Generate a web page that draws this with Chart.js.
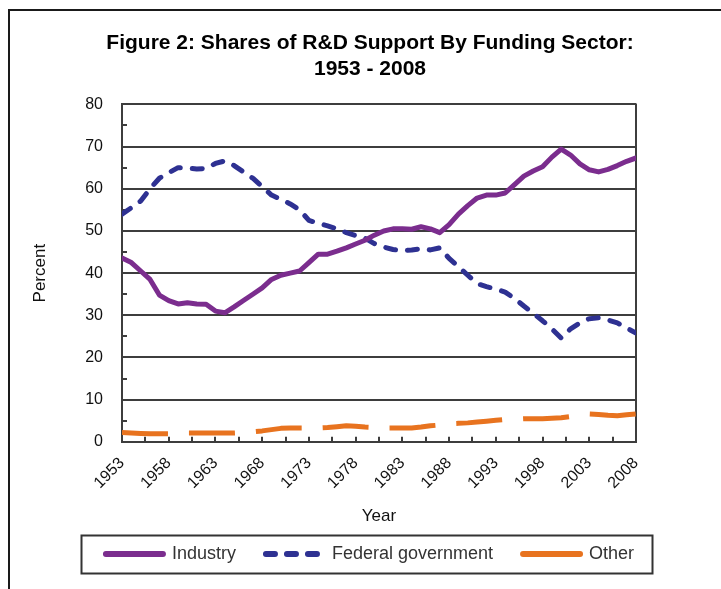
<!DOCTYPE html>
<html>
<head>
<meta charset="utf-8">
<script src="https://cdn.jsdelivr.net/npm/chart.js@4.4.1/dist/chart.umd.min.js"></script>
<style>
  html, body { margin: 0; padding: 0; background: #fff; }
  #wrap { position: relative; width: 721px; height: 589px; overflow: hidden; }
  #frame { position: absolute; left: 8px; top: 9px; right: -10px; bottom: -10px;
           border-left: 2px solid #1a1a1a; border-top: 2px solid #1a1a1a; pointer-events: none; }
  canvas { position: absolute; left: 0; top: 0; }
</style>
</head>
<body>
<div id="wrap">
  <canvas id="c" width="721" height="589"></canvas>
  <div id="frame"></div>
</div>
<script>
// ---- Data ----
const years = [1953,1954,1955,1956,1957,1958,1959,1960,1961,1962,1963,1964,1965,1966,1967,1968,1969,1970,
  1971,1972,1973,1974,1975,1976,1977,1978,1979,1980,1981,1982,1983,1984,1985,1986,1987,1988,1989,1990,
  1991,1992,1993,1994,1995,1996,1997,1998,1999,2000,2001,2002,2003,2004,2005,2006,2007,2008];

const industry = [43.6,42.5,40.5,38.5,34.8,33.5,32.7,33.0,32.7,32.6,31.0,30.6,32.0,33.5,35.0,36.5,38.5,39.5,
  40.0,40.5,42.5,44.5,44.5,45.2,46.0,46.9,47.8,49.0,50.0,50.5,50.5,50.4,51.0,50.5,49.6,51.5,54.0,56.0,
  57.8,58.5,58.5,59.0,61.0,63.0,64.2,65.2,67.5,69.4,68.0,65.9,64.5,64.0,64.6,65.5,66.5,67.3];

const federal = [54.0,55.5,57.1,60.0,62.5,63.8,65.0,64.9,64.7,64.8,66.0,66.6,65.5,64.0,62.5,60.5,58.5,57.5,
  56.4,55.0,52.5,51.8,51.2,50.5,49.6,48.9,48.3,47.0,46.2,45.6,45.3,45.5,45.8,45.5,46.0,43.5,41.5,39.5,
  37.5,36.8,36.2,35.5,34.0,32.2,30.5,28.7,26.8,24.6,26.8,28.2,29.2,29.4,28.9,28.2,27.0,25.8];

const other = [2.2,2.1,2.0,1.9,1.9,1.9,2.0,2.1,2.1,2.1,2.1,2.1,2.1,2.2,2.4,2.6,2.9,3.2,
  3.3,3.3,3.3,3.3,3.4,3.6,3.8,3.7,3.5,3.4,3.3,3.3,3.3,3.3,3.5,3.8,4.0,4.3,4.4,4.5,
  4.7,4.9,5.1,5.3,5.4,5.5,5.5,5.5,5.6,5.7,6.0,6.4,6.6,6.5,6.3,6.2,6.4,6.6];

const xTickLabels = ['1953','1958','1963','1968','1973','1978','1983','1988','1993','1998','2003','2008'];
const yTickValues = [0,10,20,30,40,50,60,70,80];
const seriesNames = ['Industry','Federal government','Other'];
const titleLines = ['Figure 2: Shares of R&D Support By Funding Sector:','1953 - 2008'];

// ---- Build ----
const toPts = (arr) => arr.map((v, i) => ({ x: years[i], y: v }));
const xLabelYears = xTickLabels.map(Number);
const xMinor = [];
xLabelYears.forEach((yv, i) => { xMinor.push(yv); if (i < xLabelYears.length - 1) xMinor.push((yv + xLabelYears[i + 1]) / 2); });
const yMinor = [];
for (let i = 0; i < yTickValues.length - 1; i++) yMinor.push((yTickValues[i] + yTickValues[i + 1]) / 2);

const AXIS = '#3d3d3d';
const FONT = "'Liberation Sans', Arial, sans-serif";

const legendStyles = [
  { color: '#7B2D8E', dash: [], cap: 'round' },
  { color: '#2E3192', dash: [9, 12], cap: 'round' },
  { color: '#E8731F', dash: [], cap: 'round' }
];

const decor = {
  id: 'decor',
  beforeDatasetsDraw(chart) {
    const { ctx, chartArea: a, scales: { x, y } } = chart;
    ctx.save();
    ctx.strokeStyle = AXIS;
    ctx.lineWidth = 2;
    ctx.beginPath();
    ctx.moveTo(a.right, a.top - 1); ctx.lineTo(a.right, a.bottom + 1);
    xMinor.forEach(v => { const px = Math.round(x.getPixelForValue(v)); ctx.moveTo(px, a.bottom); ctx.lineTo(px, a.bottom - 5); });
    yMinor.forEach(v => { const py = Math.round(y.getPixelForValue(v)); ctx.moveTo(a.left, py); ctx.lineTo(a.left + 5, py); });
    ctx.stroke();
    ctx.restore();
  },
  afterDraw(chart) {
    const lg = chart.legend;
    if (!lg || !lg.legendHitBoxes || !lg.legendHitBoxes.length) return;
    const hb = lg.legendHitBoxes;
    const l = Math.min(...hb.map(h => h.left)) - 25;
    const r = Math.max(...hb.map(h => h.left + h.width)) + 18;
    const t = Math.min(...hb.map(h => h.top)) - 10;
    const b = Math.max(...hb.map(h => h.top + h.height)) + 10;
    const ctx = chart.ctx;
    ctx.save();
    ctx.strokeStyle = '#333';
    ctx.lineWidth = 2;
    ctx.strokeRect(Math.round(l) + 0.5, Math.round(t) + 0.5, Math.round(r - l), Math.round(b - t));
    ctx.restore();
  }
};

new Chart(document.getElementById('c'), {
  type: 'line',
  data: {
    datasets: [
      { label: seriesNames[0], data: toPts(industry), borderColor: legendStyles[0].color, borderWidth: 5,
        pointRadius: 0, tension: 0, borderJoinStyle: 'round', borderCapStyle: 'round', fill: false },
      { label: seriesNames[1], data: toPts(federal), borderColor: legendStyles[1].color, borderWidth: 5,
        borderDash: [10, 12], borderCapStyle: 'round', borderJoinStyle: 'round',
        pointRadius: 0, tension: 0, fill: false },
      { label: seriesNames[2], data: toPts(other), borderColor: legendStyles[2].color, borderWidth: 5,
        borderDash: [46, 21], borderCapStyle: 'butt', borderJoinStyle: 'round',
        pointRadius: 0, tension: 0, fill: false }
    ]
  },
  options: {
    responsive: false,
    animation: false,
    layout: { padding: { left: 20, right: 1, top: 10, bottom: 16 } },
    plugins: {
      tooltip: { enabled: false },
      title: {
        display: true,
        text: titleLines,
        color: '#000',
        font: { family: FONT, size: 21, weight: 'bold', lineHeight: 1.2 },
        padding: { top: 21, bottom: 23 }
      },
      legend: {
        display: true,
        position: 'bottom',
        labels: {
          usePointStyle: true,
          pointStyleWidth: 57,
          boxHeight: 18,
          padding: 30,
          color: '#333',
          font: { family: FONT, size: 18 },
          generateLabels(chart) {
            return chart.data.datasets.map((ds, i) => ({
              text: ds.label,
              datasetIndex: i,
              strokeStyle: legendStyles[i].color,
              fillStyle: legendStyles[i].color,
              fontColor: '#333',
              lineWidth: 6,
              lineDash: legendStyles[i].dash,
              lineCap: legendStyles[i].cap,
              pointStyle: 'line',
              hidden: false
            }));
          }
        }
      }
    },
    scales: {
      x: {
        type: 'linear',
        min: years[0],
        max: years[years.length - 1],
        afterBuildTicks(s) { s.ticks = xLabelYears.map(v => ({ value: v })); },
        grid: { display: false, drawTicks: false },
        border: { display: true, color: AXIS, width: 2 },
        ticks: {
          autoSkip: false, minRotation: 45, maxRotation: 45, padding: 12, color: '#111',
          font: { family: FONT, size: 16 },
          callback: (v) => String(v)
        },
        title: { display: true, text: 'Year', color: '#111', font: { family: FONT, size: 17 },
          padding: { top: 2, bottom: -12 } }
      },
      y: {
        min: 0, max: 80,
        afterBuildTicks(s) { s.ticks = yTickValues.map(v => ({ value: v })); },
        afterFit(s) { s.width = 102; },
        grid: { color: AXIS, lineWidth: 2, drawTicks: false },
        border: { display: true, color: AXIS, width: 2 },
        ticks: { padding: 19, color: '#111', font: { family: FONT, size: 16 } },
        title: { display: true, text: 'Percent', color: '#111', font: { family: FONT, size: 17 },
          padding: { top: 10, bottom: 0 } }
      },
      yR: {
        type: 'linear', position: 'right', display: true,
        afterFit(s) { s.width = 84; },
        grid: { display: false, drawTicks: false },
        border: { display: false },
        ticks: { display: false }
      }
    }
  },
  plugins: [decor]
});
</script>
</body>
</html>
